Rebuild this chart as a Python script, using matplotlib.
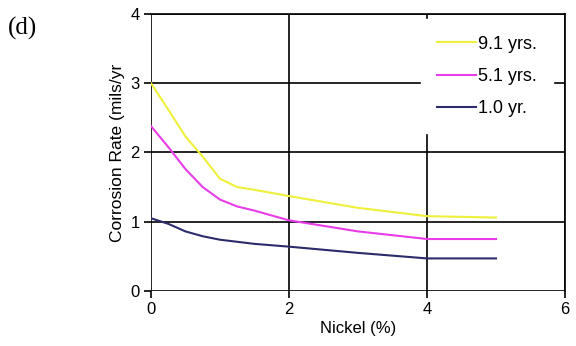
import matplotlib.pyplot as plt

nickel = [0, 0.25, 0.5, 0.75, 1.0, 1.25, 1.5, 2.0, 3.0, 4.0, 5.0]
rate_9yr = [3.0, 2.62, 2.23, 1.94, 1.62, 1.50, 1.46, 1.37, 1.20, 1.08, 1.06]
rate_5yr = [2.38, 2.08, 1.76, 1.50, 1.32, 1.22, 1.16, 1.02, 0.86, 0.75, 0.75]
rate_1yr = [1.05, 0.97, 0.86, 0.79, 0.74, 0.71, 0.68, 0.64, 0.55, 0.47, 0.47]
labels = ['9.1 yrs.', '5.1 yrs.', '1.0 yr.']

plt.rcParams['font.family'] = ['Liberation Sans', 'DejaVu Sans']

fig = plt.figure(figsize=(5.76, 3.46), dpi=100)
ax = fig.add_axes([0.262, 0.159, 0.719, 0.801])

ax.plot(nickel, rate_9yr, color='#eef03a', lw=1.5, label=labels[0])
ax.plot(nickel, rate_5yr, color='#e83ce8', lw=1.5, label=labels[1])
ax.plot(nickel, rate_1yr, color='#2c2c6c', lw=1.5, label=labels[2])

ax.set_xlim(0, 6)
ax.set_ylim(0, 4)
ax.set_xticks([0, 2, 4, 6])
ax.set_yticks([0, 1, 2, 3, 4])
ax.grid(True, color='black', lw=1.2)
ax.set_axisbelow(True)
for s in ax.spines.values():
    s.set_linewidth(1.2)
ax.spines['left'].set_visible(False)
ax.spines['bottom'].set_visible(False)
ax.tick_params(labelsize=12, length=5, width=1.2, pad=3)

ax.set_xlabel('Nickel (%)', fontsize=12, labelpad=3)
ax.set_ylabel('Corrosion Rate (mils/yr', fontsize=12.5, labelpad=4)

leg = ax.legend(loc='upper right', bbox_to_anchor=(0.985, 1.0), frameon=True,
                fontsize=13, handlelength=2.2, handletextpad=0.1,
                labelspacing=0.85, borderpad=0.9, borderaxespad=0.3,
                fancybox=False)
leg.get_frame().set_edgecolor('white')
leg.get_frame().set_facecolor('white')
leg.get_frame().set_alpha(1)

fig.text(0.014, 0.9, '(d)', fontsize=18, family='Liberation Serif')

fig.savefig('out.png')
